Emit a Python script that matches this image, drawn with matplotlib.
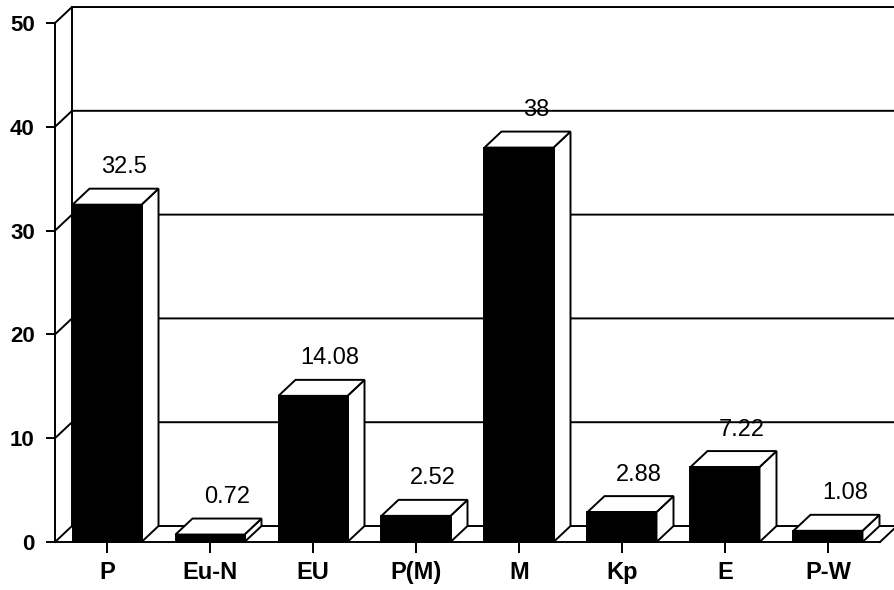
import matplotlib.pyplot as plt
from matplotlib.patches import Polygon, Rectangle

categories = ['P', 'Eu-N', 'EU', 'P(M)', 'M', 'Kp', 'E', 'P-W']
values = [32.5, 0.72, 14.08, 2.52, 38, 2.88, 7.22, 1.08]
labels = ['32.5', '0.72', '14.08', '2.52', '38', '2.88', '7.22', '1.08']
yticks = [0, 10, 20, 30, 40, 50]

plt.rcParams['font.family'] = ['Liberation Sans', 'DejaVu Sans']

fig = plt.figure(figsize=(8.94, 5.9), dpi=100)
ax = fig.add_axes([55 / 894, 48 / 590, 825 / 894, 519 / 590])
ax.set_xlim(-0.505, 7.505)
ax.set_ylim(0, 50)

# depth offset of the 3D look (data units)
dx = 0.165
dy = 1.54
bw = 0.67
lw = 1.4
x_left, x_right = -0.505, 7.505

# back wall gridlines + diagonals on the left wall
for v in yticks:
    ax.plot([x_left, x_left + dx, x_right + dx], [v, v + dy, v + dy],
            color='black', lw=lw, clip_on=False, zorder=1)
ax.plot([x_left + dx, x_left + dx], [dy, 50 + dy], color='black', lw=lw,
        clip_on=False, zorder=1)
ax.plot([x_right, x_right + dx], [0, dy], color='black', lw=lw,
        clip_on=False, zorder=1)

# bars
for i, v in enumerate(values):
    x0 = i - bw / 2
    x1 = i + bw / 2
    side = Polygon([(x1, 0), (x1, v), (x1 + dx, v + dy), (x1 + dx, dy)],
                   closed=True, facecolor='white', edgecolor='black', lw=lw,
                   clip_on=False, zorder=3)
    top = Polygon([(x0, v), (x1, v), (x1 + dx, v + dy), (x0 + dx, v + dy)],
                  closed=True, facecolor='white', edgecolor='black', lw=lw,
                  clip_on=False, zorder=3)
    front = Rectangle((x0, 0), bw, v, facecolor='black', edgecolor='black',
                      lw=lw, clip_on=False, zorder=4)
    ax.add_patch(side)
    ax.add_patch(top)
    ax.add_patch(front)
    ax.text(i + dx, v + dy + 1.0, labels[i], ha='center', va='bottom',
            fontsize=17, color='black', zorder=5)

for s in ['top', 'right']:
    ax.spines[s].set_visible(False)
for s in ['left', 'bottom']:
    ax.spines[s].set_linewidth(lw)
    ax.spines[s].set_zorder(6)

ax.set_yticks(yticks)
ax.set_yticklabels([str(t) for t in yticks], fontsize=16, fontweight='bold')
ax.set_xticks(range(len(categories)))
ax.set_xticklabels(categories, fontsize=17, fontweight='bold')
ax.tick_params(axis='y', length=6.5, width=lw, pad=8)
ax.tick_params(axis='x', length=8, width=lw, pad=6)
ax.patch.set_alpha(0)

fig.savefig('out.png', dpi=100, facecolor='white')
